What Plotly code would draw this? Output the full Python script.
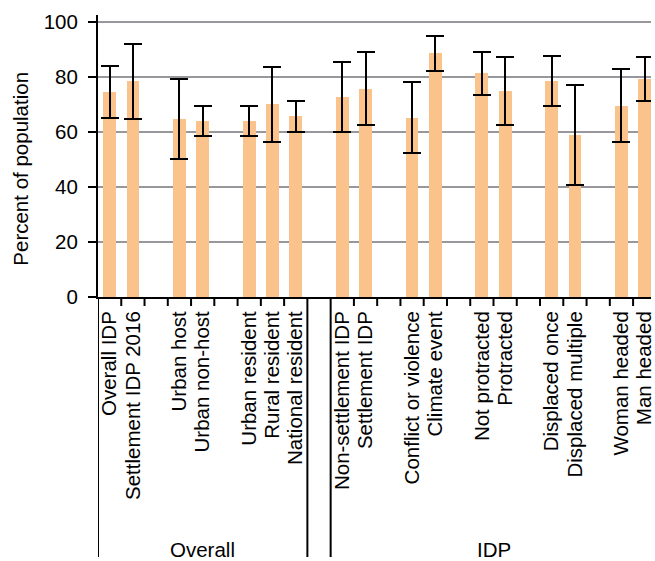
import plotly.graph_objects as go

# Share of population per group, with lower/upper confidence bounds (%)
categories = [
    "Overall IDP", "Settlement IDP 2016",
    "Urban host", "Urban non-host",
    "Urban resident", "Rural resident", "National resident",
    "Non-settlement IDP", "Settlement IDP",
    "Conflict or violence", "Climate event",
    "Not protracted", "Protracted",
    "Displaced once", "Displaced multiple",
    "Woman headed", "Man headed",
]
values = [74.5, 78.5, 64.6, 63.9, 63.9, 70.1, 65.7,
          72.7, 75.6, 65.0, 88.7, 81.4, 74.8, 78.5, 58.8, 69.4, 79.2]
ci_low = [65.1, 64.8, 50.2, 58.6, 58.6, 56.3, 60.0,
          59.9, 62.5, 52.2, 82.3, 73.4, 62.5, 69.4, 40.7, 56.3, 71.3]
ci_high = [84.0, 92.1, 79.2, 69.4, 69.4, 83.6, 71.3,
           85.4, 89.1, 78.3, 95.0, 89.1, 87.2, 87.7, 77.0, 82.9, 87.2]

y_title = "Percent of population"

# Panel and cluster membership of each category
panel_names = ["Overall", "IDP"]
panel_of = [0] * 7 + [1] * 10
cluster_of = [0, 0, 1, 1, 2, 2, 2, 3, 3, 4, 4, 5, 5, 6, 6, 7, 7]

# Lay out slots: one empty slot between consecutive clusters
slots = []
pos = 0
for i, c in enumerate(cluster_of):
    if i > 0 and c != cluster_of[i - 1]:
        pos += 1
    slots.append(pos)
    pos += 1
n_slots = pos
centers = [s + 0.5 for s in slots]

# Panel extents in slot units
panel_start = [min(s for s, p in zip(slots, panel_of) if p == k) for k in range(2)]
panel_end = [max(s for s, p in zip(slots, panel_of) if p == k) + 1 for k in range(2)]

FONT = "Liberation Sans, Arial, Helvetica, sans-serif"
FS = 20.5
BAR = "#FAC38C"

fig = go.Figure()
fig.add_trace(go.Bar(
    x=centers,
    y=values,
    width=0.55,
    marker=dict(color=BAR, line=dict(width=0)),
    error_y=dict(
        type="data",
        symmetric=False,
        array=[h - v for h, v in zip(ci_high, values)],
        arrayminus=[v - l for v, l in zip(values, ci_low)],
        color="black",
        thickness=2,
        width=9,
    ),
    hoverinfo="skip",
))

# Short tick at every slot boundary; long separators bound each panel
shapes = []
long_edges = set(panel_start) | set(panel_end[:-1])
for b in range(0, n_slots + 1):
    length = 260 if b in long_edges else 9
    shapes.append(dict(
        type="line", xref="x", yref="paper",
        x0=b, x1=b, ysizemode="pixel", yanchor=0, y0=0, y1=-length,
        line=dict(color="black", width=2),
    ))

annotations = []
for k, name in enumerate(panel_names):
    right = panel_end[k] if k < len(panel_names) - 1 else n_slots
    annotations.append(dict(
        text=name, xref="x", yref="paper",
        x=(panel_start[k] + right) / 2, y=0,
        yshift=-252, xanchor="center", yanchor="middle",
        showarrow=False, font=dict(family=FONT, size=FS, color="black"),
    ))

# Vertical axis title, set a little below the panel's middle
annotations.append(dict(
    text=y_title, xref="paper", yref="paper",
    x=0, y=0.455, xshift=-77, textangle=-90,
    xanchor="center", yanchor="middle",
    showarrow=False, font=dict(family=FONT, size=FS, color="black"),
))

fig.update_layout(
    width=655, height=561,
    margin=dict(l=98, r=0, t=15, b=264),
    paper_bgcolor="white", plot_bgcolor="white",
    showlegend=False,
    bargap=0,
    shapes=shapes,
    annotations=annotations,
    font=dict(family=FONT, size=FS, color="black"),
)
fig.update_xaxes(
    range=[0, 23.77],
    tickmode="array", tickvals=centers, ticktext=categories,
    tickangle=-90,
    ticks="outside", ticklen=4, tickcolor="rgba(0,0,0,0)",
    ticklabeloverflow="allow",
    showline=True, linecolor="black", linewidth=2,
    showgrid=False, zeroline=False,
    tickfont=dict(family=FONT, size=FS, color="black"),
)
fig.update_yaxes(
    range=[0, 102.5],
    tickvals=[0, 20, 40, 60, 80, 100],
    ticks="outside", ticklen=8, tickwidth=2, tickcolor="black",
    ticklabelstandoff=6,
    showline=True, linecolor="black", linewidth=2,
    showgrid=True, gridcolor="#98989c", gridwidth=1.5,
    zeroline=False,
    tickfont=dict(family=FONT, size=FS, color="black"),
)

fig.write_html("out.html")
